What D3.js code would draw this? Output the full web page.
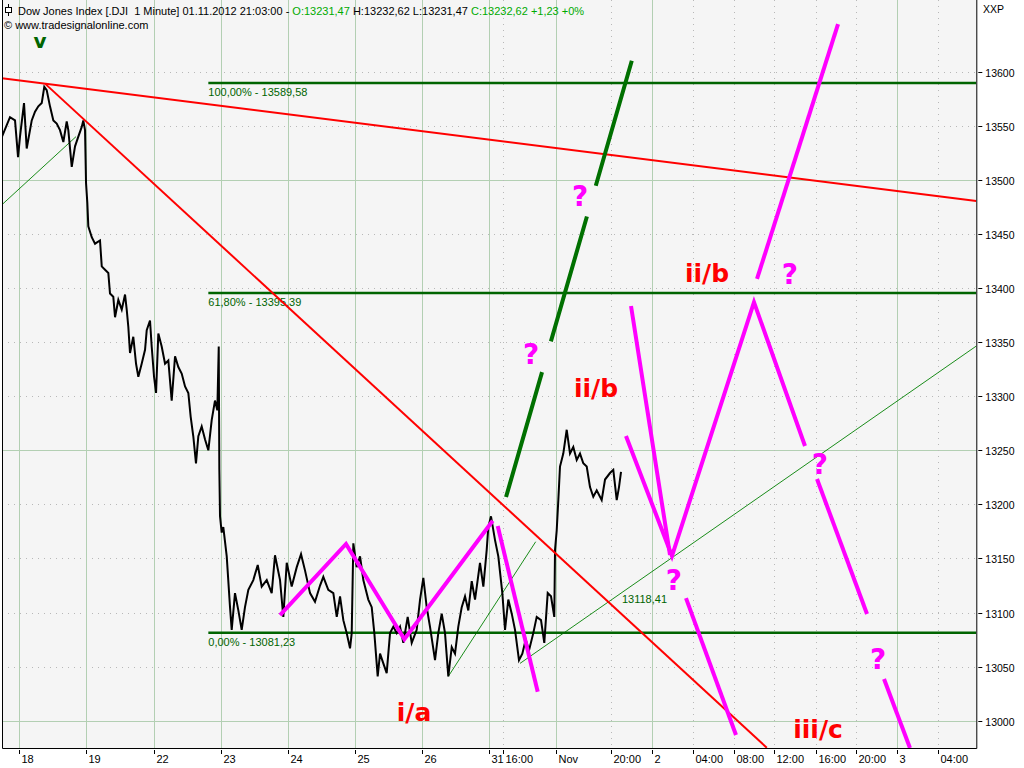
<!DOCTYPE html>
<html><head><meta charset="utf-8">
<script src="https://cdn.jsdelivr.net/npm/d3@7"></script>
<style>
body{margin:0;background:#fff;}
svg{display:block;font-family:"Liberation Sans",Arial,sans-serif;}
</style></head><body>
<svg id="chart" width="1024" height="768"></svg>
<script>
// ---------- DATA ----------
// x positions are in trading-session units (0 = Oct 18 open)
const xTickPos    = [0, 1, 2, 3, 4, 5, 6, 7, 7.2, 8, 8.82, 9.43, 10.04, 10.65, 11.25, 11.87, 12.47, 13.08, 13.68];
const xTickLabels = ["18","19","22","23","24","25","26","31","16:00","Nov","20:00","2","04:00","08:00","12:00","16:00","20:00","3","04:00"];
const xTickMajor  = [1,1,1,1,1,1,1,1,0,1,0,1,0,0,0,0,0,1,0];
const yTicks      = [13000,13050,13100,13150,13200,13250,13300,13350,13400,13450,13500,13550,13600];
const yMajor      = [13000,13250,13500];

const priceTimes = [-0.258,-0.139,-0.064,-0.019,0.010,0.070,0.110,0.185,0.234,0.283,0.334,0.372,0.408,0.457,0.507,0.557,0.606,0.656,0.706,0.730,0.781,0.830,0.879,0.930,0.953,0.979,0.994,1.013,1.028,1.079,1.128,1.202,1.228,1.277,1.326,1.351,1.400,1.426,1.475,1.526,1.575,1.600,1.624,1.649,1.698,1.739,1.773,1.823,1.873,1.898,1.947,1.972,2.007,2.037,2.071,2.121,2.171,2.220,2.270,2.320,2.369,2.419,2.469,2.518,2.553,2.592,2.632,2.667,2.717,2.767,2.816,2.866,2.915,2.950,2.971,2.980,2.990,3.015,3.039,3.090,3.139,3.164,3.213,3.263,3.313,3.362,3.412,3.486,3.552,3.611,3.686,3.760,3.809,3.884,3.933,3.984,4.058,4.133,4.197,4.256,4.331,4.405,4.480,4.529,4.603,4.678,4.729,4.778,4.827,4.877,4.927,4.952,4.976,5.026,5.076,5.125,5.199,5.250,5.289,5.339,5.374,5.423,5.473,5.523,5.572,5.622,5.672,5.721,5.786,5.846,5.920,5.970,6.019,6.069,6.118,6.193,6.242,6.293,6.342,6.391,6.442,6.491,6.540,6.591,6.640,6.689,6.740,6.789,6.863,6.913,6.963,6.987,7.027,7.087,7.136,7.196,7.236,7.285,7.336,7.385,7.444,7.494,7.544,7.593,7.657,7.708,7.772,7.821,7.872,7.921,7.970,7.981,8.006,8.030,8.055,8.104,8.155,8.204,8.253,8.304,8.353,8.402,8.453,8.502,8.551,8.602,8.676,8.726,8.800,8.849,8.900,8.934,8.964];
const priceValues = [13540,13558,13555,13521,13540,13571,13529,13555,13563,13568,13571,13586,13583,13568,13555,13552,13546,13535,13554,13546,13512,13531,13540,13549,13555,13546,13497,13479,13457,13447,13441,13444,13420,13417,13414,13395,13392,13373,13389,13380,13394,13380,13364,13340,13355,13330,13318,13330,13343,13361,13370,13346,13318,13303,13358,13346,13330,13333,13296,13337,13327,13321,13309,13303,13281,13263,13238,13263,13272,13260,13250,13278,13296,13287,13346,13232,13189,13174,13179,13152,13105,13084,13118,13102,13084,13105,13121,13130,13144,13124,13130,13118,13153,13130,13096,13146,13124,13142,13154,13139,13118,13110,13125,13133,13121,13118,13096,13115,13093,13081,13067,13081,13164,13142,13152,13130,13112,13105,13081,13041,13062,13053,13044,13081,13087,13081,13087,13072,13096,13072,13084,13112,13132,13105,13087,13056,13081,13099,13081,13041,13068,13062,13087,13105,13115,13102,13129,13112,13146,13124,13158,13179,13189,13167,13152,13118,13084,13112,13099,13084,13056,13062,13075,13065,13081,13096,13093,13072,13118,13115,13096,13158,13176,13204,13235,13247,13269,13247,13253,13241,13247,13238,13235,13216,13207,13213,13204,13223,13229,13232,13204,13216,13230];

const fibLevels = [13589.58, 13395.39, 13081.23];
const fibLabels = ["100,00% - 13589,58", "61,80% - 13395,39", "0,00% - 13081,23"];
const fibStartT = 2.816;
const pointLabel = {text: "13118,41", t: 8.978, p: 13118.41};

const redTrendLines = [
  [[-0.258, 13594], [14.257, 13480.5]],
  [[0.383, 13589], [11.136, 12975]]
];
const greenThinLines = [
  [[-0.26, 13477], [0.845, 13540]],
  [[6.391, 13041], [7.693, 13165.5]],
  [[7.459, 13053], [14.257, 13346.4]]
];
const greenProjection = [[7.251, 13206.8], [9.158, 13617.3]];
const magentaPaths = [
  [[3.884, 13097.7], [4.867, 13163.4], [5.736, 13075.3], [7.053, 13184.9]],
  [[7.127, 13180], [7.723, 13026.8]],
  [[9.113, 13383.4], [9.694, 13153.2]],
  [[9.038, 13263.2], [9.723, 13152.3], [10.945, 13387], [11.705, 13254]],
  [[10.990, 13408.4], [12.197, 13644]],
  [[11.884, 13223.5], [12.629, 13098.7]],
  [[9.932, 13113.4], [10.677, 12986.8]],
  [[12.882, 13038.6], [13.269, 12974.8]]
];
const waveLabels = [
  {text: "v",     t: 0.308,  p: 13621.5, color: "#006400"},
  {text: "i/a",   t: 5.880,  p: 12999.7, color: "#ff0000"},
  {text: "ii/b",  t: 8.591,  p: 13299.3, color: "#ff0000"},
  {text: "ii/b",  t: 10.245, p: 13405.6, color: "#ff0000"},
  {text: "iii/c", t: 11.899, p: 12984,   color: "#ff0000"}
];
const questionMarks = [
  {t: 8.353, p: 13475.8}, {t: 7.623, p: 13329.8}, {t: 11.481, p: 13403.7},
  {t: 11.928, p: 13228}, {t: 9.753, p: 13120.8}, {t: 12.793, p: 13047.8}
];

// ---------- CHART ----------
const svg = d3.select("#chart");
const L = 2, R = 976.3, T = 0, B = 748;
const x = d3.scaleLinear().domain([-0.258, 14.257]).range([L, R]);
const y = d3.scaleLinear().domain([12974.8, 13666.3]).range([B, T]);

svg.append("defs").append("clipPath").attr("id","clip")
  .append("rect").attr("x", L).attr("y", T).attr("width", R - L).attr("height", B - T);

svg.append("rect").attr("x", L).attr("y", T).attr("width", R - L).attr("height", B - T).attr("fill", "#f5f5f5");

const grid = svg.append("g").attr("clip-path","url(#clip)");
grid.selectAll("line.hg").data(yTicks).enter().append("line")
  .attr("x1", L).attr("x2", R)
  .attr("y1", d => Math.round(y(d)) + 0.5).attr("y2", d => Math.round(y(d)) + 0.5)
  .attr("stroke", d => yMajor.includes(d) ? "#b3cfb3" : "#b8b8b8")
  .attr("stroke-dasharray", d => yMajor.includes(d) ? null : "1,5");
grid.selectAll("line.vg").data(xTickPos).enter().append("line")
  .attr("x1", d => Math.round(x(d)) + 0.5).attr("x2", d => Math.round(x(d)) + 0.5)
  .attr("y1", T).attr("y2", B)
  .attr("stroke", (d,i) => xTickMajor[i] ? "#b3cfb3" : "#b8b8b8")
  .attr("stroke-dasharray", (d,i) => xTickMajor[i] ? null : "1,5");

const plot = svg.append("g").attr("clip-path","url(#clip)");
const line = d3.line().x(d => x(d[0])).y(d => y(d[1]));

greenThinLines.forEach(seg => plot.append("path").attr("d", line(seg))
  .attr("fill","none").attr("stroke","#008000").attr("stroke-width",0.9));

fibLevels.forEach((v, i) => {
  plot.append("line").attr("x1", x(fibStartT)).attr("x2", R)
    .attr("y1", y(v)).attr("y2", y(v)).attr("stroke","#006400").attr("stroke-width",2.5);
  plot.append("text").attr("x", x(fibStartT)).attr("y", y(v) + 13)
    .attr("font-size", 11).attr("fill","#006400").text(fibLabels[i]);
});
plot.append("text").attr("x", x(pointLabel.t)).attr("y", y(pointLabel.p) + 10)
  .attr("font-size", 11).attr("fill","#006400").text(pointLabel.text);

const priceData = priceTimes.map((t,i) => [t, priceValues[i]]);
plot.append("path").attr("d", line(priceData)).attr("fill","none")
  .attr("stroke","#000").attr("stroke-width",2).attr("stroke-linejoin","miter");

redTrendLines.forEach(seg => plot.append("path").attr("d", line(seg))
  .attr("fill","none").attr("stroke","#ff0000").attr("stroke-width",2));

plot.append("path").attr("d", line(greenProjection)).attr("fill","none")
  .attr("stroke","#007000").attr("stroke-width",4).attr("stroke-dasharray","130,32");

magentaPaths.forEach(seg => plot.append("path").attr("d", line(seg))
  .attr("fill","none").attr("stroke","#ff00ff").attr("stroke-width",4).attr("stroke-linejoin","miter"));

waveLabels.forEach(d => plot.append("text").attr("x", x(d.t)).attr("y", y(d.p))
  .attr("text-anchor","middle").attr("font-family","DejaVu Sans, Verdana, sans-serif")
  .attr("font-weight","bold").attr("font-size", d.text === "v" ? 20 : 25).attr("fill", d.color).text(d.text));
questionMarks.forEach(d => plot.append("text").attr("x", x(d.t)).attr("y", y(d.p))
  .attr("text-anchor","middle").attr("font-family","DejaVu Sans, Verdana, sans-serif")
  .attr("font-weight","bold").attr("font-size", 28).attr("fill","#ff00ff").text("?"));

const hdr = svg.append("text").attr("x", 18).attr("y", 15).attr("font-size", 11).attr("xml:space","preserve");
[["Dow Jones Index [.DJI  1 Minute] 01.11.2012 21:03:00 - ","#000"],["O:13231,47","#00aa00"],[" H:13232,62 L:13231,47 ","#000"],["C:13232,62 +1,23 +0%","#00aa00"]]
  .forEach(p => hdr.append("tspan").attr("fill", p[1]).text(p[0]));
svg.append("line").attr("x1",8.5).attr("x2",8.5).attr("y1",4).attr("y2",16).attr("stroke","#000");
svg.append("rect").attr("x",5.5).attr("y",7.5).attr("width",6).attr("height",5).attr("fill","#fff").attr("stroke","#000");
svg.append("text").attr("x", 4).attr("y", 29).attr("font-size", 11).text("© www.tradesignalonline.com");

svg.append("path").attr("d", `M${L+0.5},${T} V${B+0.5} H${R+0.5} V${T}`).attr("fill","none").attr("stroke","#000");

const ya = svg.append("g");
yTicks.forEach(v => {
  const yy = Math.round(y(v)) + 0.5;
  ya.append("line").attr("x1", R + 2).attr("x2", R + 6).attr("y1", yy).attr("y2", yy).attr("stroke","#000");
  ya.append("text").attr("x", R + 9).attr("y", yy + 4).attr("font-size", 10.5).text(v);
});
svg.append("text").attr("x", 983).attr("y", 13).attr("font-size", 10.5).text("XXP");

xTickPos.forEach((t,i) => {
  const xx = Math.round(x(t)) + 0.5;
  svg.append("line").attr("x1", xx).attr("x2", xx).attr("y1", B + 2).attr("y2", B + 6).attr("stroke","#000");
  svg.append("text").attr("x", xx + 2).attr("y", B + 15).attr("font-size", 11).text(xTickLabels[i]);
});
</script>
</body></html>
